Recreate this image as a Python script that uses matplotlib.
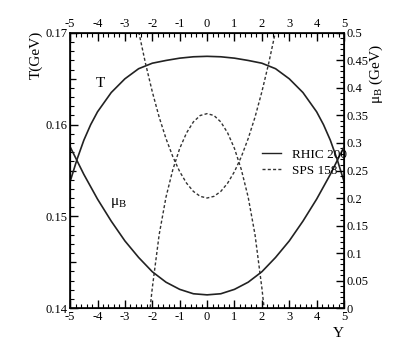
import matplotlib
matplotlib.use('Agg')
import matplotlib.pyplot as plt
from matplotlib.ticker import MultipleLocator
from matplotlib.lines import Line2D

plt.rcParams['font.family'] = ['Liberation Serif', 'DejaVu Serif']
plt.rcParams['mathtext.fontset'] = 'custom'
plt.rcParams['mathtext.rm'] = 'Liberation Serif'
plt.rcParams['axes.unicode_minus'] = False

# RHIC 200 (solid)
y_rhic = [-5, -4.75, -4.5, -4.25, -4, -3.5, -3, -2.5, -2, -1.5, -1, -0.5, 0,
          0.5, 1, 1.5, 2, 2.5, 3, 3.5, 4, 4.25, 4.5, 4.75, 5]
T_rhic = [0.1538, 0.1562, 0.1583, 0.1600, 0.1614, 0.1635, 0.1650, 0.1661, 0.1667,
          0.1670, 0.16725, 0.1674, 0.16745, 0.1674, 0.16725, 0.1670, 0.1667, 0.1661,
          0.1650, 0.1635, 0.1614, 0.1600, 0.1583, 0.1562, 0.1538]
y_rhic_mu = [-5, -4.5, -4, -3.5, -3, -2.5, -2, -1.5, -1, -0.5, 0,
             0.5, 1, 1.5, 2, 2.5, 3, 3.5, 4, 4.5, 5]
mu_rhic = [0.293, 0.243, 0.198, 0.158, 0.122, 0.092, 0.066, 0.047, 0.034, 0.026, 0.024,
           0.026, 0.034, 0.047, 0.066, 0.092, 0.122, 0.158, 0.198, 0.243, 0.293]

# SPS 158 (dotted)
y_sps = [-2.1, -2, -1.75, -1.5, -1.25, -1, -0.75, -0.5, -0.25, 0,
         0.25, 0.5, 0.75, 1, 1.25, 1.5, 1.75, 2, 2.1]
T_sps = [0.1395, 0.1422, 0.1480, 0.1521, 0.1551, 0.1574, 0.1591, 0.1603, 0.1610, 0.1612,
         0.1610, 0.1603, 0.1591, 0.1574, 0.1551, 0.1521, 0.1480, 0.1422, 0.1395]
y_sps_mu = [-2.6, -2.5, -2.25, -2, -1.75, -1.5, -1.25, -1, -0.75, -0.5, -0.25, 0,
            0.25, 0.5, 0.75, 1, 1.25, 1.5, 1.75, 2, 2.25, 2.5, 2.6]
mu_sps = [0.53, 0.503, 0.445, 0.393, 0.347, 0.308, 0.275, 0.248, 0.227, 0.212, 0.203, 0.200,
          0.203, 0.212, 0.227, 0.248, 0.275, 0.308, 0.347, 0.393, 0.445, 0.503, 0.53]

fig = plt.figure(figsize=(4.15, 3.62), dpi=100)
ax = fig.add_axes([0.169, 0.149, 0.660, 0.760])
ax2 = ax.twinx()

dot = (0, (2.2, 1.6))
ax.plot(y_rhic, T_rhic, color='#222222', lw=1.2)
ax.plot(y_sps, T_sps, color='#333333', lw=1.0, linestyle=dot)
ax2.plot(y_rhic_mu, mu_rhic, color='#222222', lw=1.2)
ax2.plot(y_sps_mu, mu_sps, color='#333333', lw=1.0, linestyle=dot)

ax.set_xlim(-5, 5)
ax.set_ylim(0.14, 0.17)
ax2.set_ylim(0, 0.5)

ax.xaxis.set_major_locator(MultipleLocator(1))
ax.xaxis.set_minor_locator(MultipleLocator(0.2))
ax.yaxis.set_major_locator(MultipleLocator(0.01))
ax.yaxis.set_minor_locator(MultipleLocator(0.001))
ax2.yaxis.set_major_locator(MultipleLocator(0.05))
ax2.yaxis.set_minor_locator(MultipleLocator(0.01))
ax.set_yticks([0.14, 0.15, 0.16, 0.17])
ax.set_yticklabels(['0.14', '0.15', '0.16', '0.17'])
ax2.set_yticks([0, 0.05, 0.1, 0.15, 0.2, 0.25, 0.3, 0.35, 0.4, 0.45, 0.5])
ax2.set_yticklabels(['0', '0.05', '0.1', '0.15', '0.2', '0.25', '0.3', '0.35',
                     '0.4', '0.45', '0.5'])

ax.tick_params(axis='x', which='both', direction='in', top=True, labeltop=True,
               labelsize=9, pad=2)
ax.tick_params(axis='y', which='both', direction='in', labelsize=9, pad=2)
ax.tick_params(which='major', length=6, width=1)
ax.tick_params(which='minor', length=3, width=0.8)
ax2.tick_params(axis='y', which='both', direction='in', labelsize=9, pad=2)
ax2.tick_params(which='major', length=6, width=1)
ax2.tick_params(which='minor', length=3, width=0.8)

# medium ticks at the half steps of T
sec = ax.secondary_yaxis('left')
sec.set_yticks([0.145, 0.155, 0.165])
sec.set_yticklabels([])
sec.tick_params(direction='in', length=4.5, width=0.9)

for s in ax.spines.values():
    s.set_linewidth(1.2)

ax.set_ylabel('T(GeV)', fontsize=11)
ax.yaxis.set_label_coords(-0.10, 0.92)
ax2.set_ylabel('μ$_\\mathrm{B}$ (GeV)', fontsize=11, rotation=90)
ax2.yaxis.set_label_coords(1.085, 0.85)
ax.set_xlabel('Y', fontsize=11)
ax.xaxis.set_label_coords(0.978, -0.07)

ax.text(-3.9, 0.1645, 'T', fontsize=11, ha='center', va='center')
ax.text(-3.25, 0.1515, 'μ$_\\mathrm{B}$', fontsize=11, ha='center', va='center')

handles = [Line2D([], [], color='#222222', lw=1.0),
           Line2D([], [], color='#333333', lw=1.0, linestyle=dot)]
ax2.legend(handles, ['RHIC 200', 'SPS 158'], loc='upper left',
           bbox_to_anchor=(0.68, 0.6), frameon=False, fontsize=9.5,
           handlelength=1.5, handletextpad=0.8, labelspacing=0.3,
           borderaxespad=0)

fig.savefig('out.png', dpi=100)
